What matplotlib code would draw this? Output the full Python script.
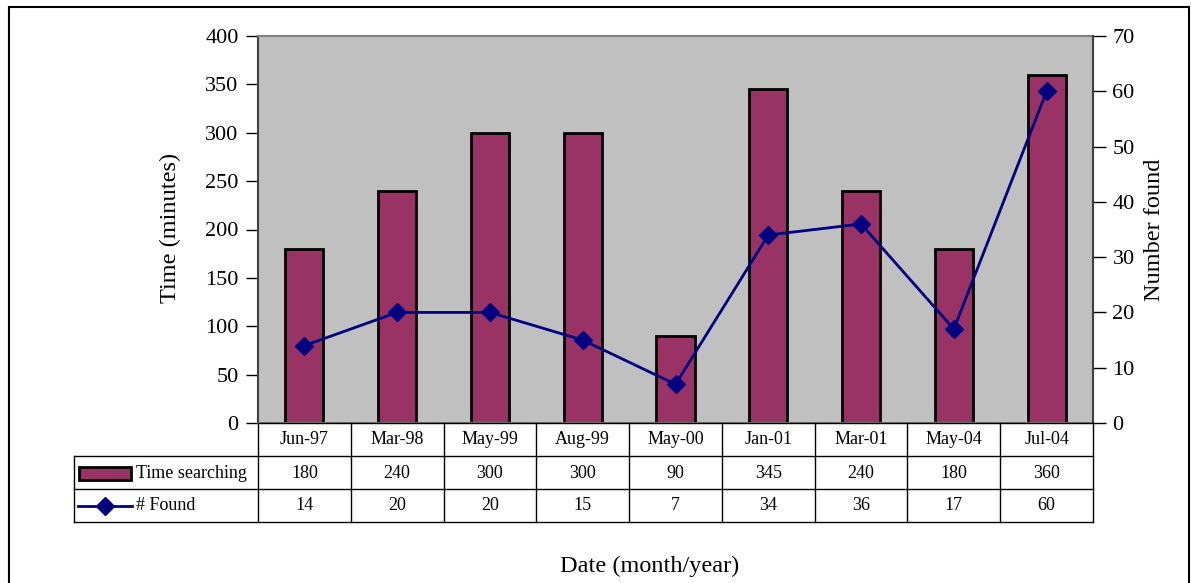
import matplotlib.pyplot as plt
from matplotlib.patches import Rectangle
from matplotlib.lines import Line2D

plt.rcParams['font.family'] = ['Liberation Serif', 'DejaVu Serif']

dates = ['Jun-97', 'Mar-98', 'May-99', 'Aug-99', 'May-00', 'Jan-01', 'Mar-01', 'May-04', 'Jul-04']
time_searching = [180, 240, 300, 300, 90, 345, 240, 180, 360]
num_found = [14, 20, 20, 15, 7, 34, 36, 17, 60]

W, H = 1191, 583
BAR = '#993366'
LINE = '#000080'

fig = plt.figure(figsize=(W / 100, H / 100), dpi=100)


def fx(px):
    return px / W


def fy(py):
    return 1 - py / H


# outer chart frame
fig.patches.append(Rectangle((fx(9), fy(640)), fx(1189) - fx(9), fy(7) - fy(640),
                             transform=fig.transFigure, fill=False, ec='black', lw=1.5))

L, R, T, B = 258, 1093, 36, 423
ax = fig.add_axes([fx(L), fy(B), fx(R) - fx(L), fy(T) - fy(B)])
ax.set_facecolor('#c0c0c0')
x = list(range(len(dates)))
ax.bar(x, time_searching, width=0.41, color=BAR, edgecolor='black', linewidth=2, zorder=2)
ax.set_xlim(-0.5, len(dates) - 0.5)
ax.set_ylim(0, 400)
ax.set_yticks(range(0, 401, 50))
ax.set_xticks([])
ax.tick_params(axis='y', direction='out', length=9, width=1, labelsize=16, pad=5)
for s in ax.spines.values():
    s.set_color('#808080')
    s.set_linewidth(1.5)
ax.spines['left'].set_color('#404040')

ax2 = ax.twinx()
ax2.plot(x, num_found, color=LINE, lw=2, marker='D', ms=9, zorder=3)
ax2.set_ylim(0, 70)
ax2.set_yticks(range(0, 71, 10))
ax2.tick_params(axis='y', direction='out', length=9, width=1, labelsize=16, pad=5)
for s in ax2.spines.values():
    s.set_visible(False)
ax2.spines['right'].set_visible(True)
ax2.spines['right'].set_color('#404040')
ax2.spines['right'].set_linewidth(1.5)

fig.text(fx(170), fy(228), 'Time (minutes)', rotation=90, ha='center', va='center', fontsize=17.5)
fig.text(fx(1155), fy(230), 'Number found', rotation=90, ha='center', va='center', fontsize=17.5)
fig.text(fx(650), fy(566), 'Date (month/year)', ha='center', va='center', fontsize=17.5)

# data table under the plot
col_w = (R - L) / len(dates)
rows = [423, 456, 489, 522]
lk = dict(transform=fig.transFigure, color='black', lw=1)
for py in rows:
    x0 = L if py == 423 else 74
    fig.add_artist(Line2D([fx(x0), fx(R)], [fy(py), fy(py)], **lk))
for i in range(len(dates) + 1):
    px = L + i * col_w
    fig.add_artist(Line2D([fx(px), fx(px)], [fy(423), fy(522)], **lk))
fig.add_artist(Line2D([fx(74), fx(74)], [fy(456), fy(522)], **lk))

for i, d in enumerate(dates):
    cx = fx(L + (i + 0.5) * col_w)
    fig.text(cx, fy(440), d, ha='center', va='center', fontsize=13)
    fig.text(cx, fy(473), str(time_searching[i]), ha='center', va='center', fontsize=13)
    fig.text(cx, fy(506), str(num_found[i]), ha='center', va='center', fontsize=13)

# legend keys inside the table
fig.patches.append(Rectangle((fx(79), fy(480)), fx(131) - fx(79), fy(467) - fy(480),
                             transform=fig.transFigure, fc=BAR, ec='black', lw=2))
fig.text(fx(136), fy(473), 'Time searching', ha='left', va='center', fontsize=13)
fig.add_artist(Line2D([fx(78), fx(132)], [fy(506), fy(506)], transform=fig.transFigure,
                      color=LINE, lw=2))
fig.add_artist(Line2D([fx(105)], [fy(506)], transform=fig.transFigure, color=LINE,
                      marker='D', ms=9))
fig.text(fx(136), fy(506), '# Found', ha='left', va='center', fontsize=13)

fig.savefig('out.png', dpi=100)
